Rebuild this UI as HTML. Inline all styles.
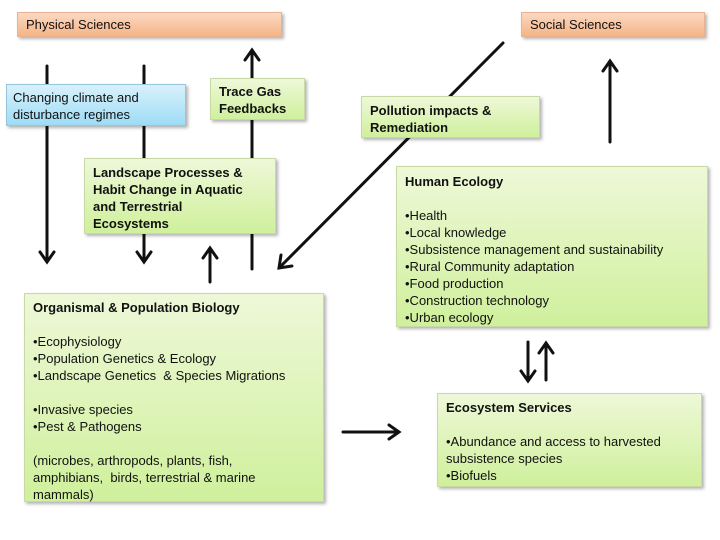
<!DOCTYPE html>
<html><head><meta charset="utf-8"><style>
body{margin:0;width:720px;height:540px;background:#fff;position:relative;overflow:hidden;font-family:"Liberation Sans",sans-serif;color:#111}
.b{position:absolute;box-sizing:border-box;border:1px solid #c9d9a6;box-shadow:2px 2px 3px rgba(0,0,0,.3);font-size:13px;line-height:17px;padding:4px 8px}
.g{background:linear-gradient(#eef8d8,#cff09c)}
.o{background:linear-gradient(#fbd9c2,#f6b486);border-color:#e8b393;padding:3px 8px}
.c{background:linear-gradient(#d9f1fb,#9edcf5);border-color:#94c6dc}
b{font-weight:bold}
svg{position:absolute;left:0;top:0}
</style></head><body>
<div class="b o" style="left:17px;top:12px;width:265px;height:25px">Physical Sciences</div>
<div class="b o" style="left:521px;top:12px;width:184px;height:25px">Social Sciences</div>
<div class="b c" style="left:6px;top:84px;width:180px;height:42px;padding:4px 6px">Changing climate and<br>disturbance regimes</div>
<div class="b g" style="left:210px;top:78px;width:95px;height:42px"><b>Trace Gas<br>Feedbacks</b></div>
<div class="b g" style="left:361px;top:96px;width:179px;height:42px;padding-top:5px"><b>Pollution impacts &amp;<br>Remediation</b></div>
<div class="b g" style="left:84px;top:158px;width:192px;height:76px;padding-top:5px"><b>Landscape Processes &amp;<br>Habit Change in Aquatic<br>and Terrestrial<br>Ecosystems</b></div>
<div class="b g" style="left:396px;top:166px;width:312px;height:161px;padding-top:6px"><b>Human Ecology</b><br><br>•Health<br>•Local knowledge<br>•Subsistence management and sustainability<br>•Rural Community adaptation<br>•Food production<br>•Construction technology<br>•Urban ecology</div>
<div class="b g" style="left:24px;top:293px;width:300px;height:209px;padding-top:5px"><b>Organismal &amp; Population Biology</b><br><br>•Ecophysiology<br>•Population Genetics &amp; Ecology<br>•Landscape Genetics &nbsp;&amp; Species Migrations<br><br>•Invasive species<br>•Pest &amp; Pathogens<br><br>(microbes, arthropods, plants, fish,<br>amphibians, &nbsp;birds, terrestrial &amp; marine<br>mammals)</div>
<div class="b g" style="left:437px;top:393px;width:265px;height:94px;padding-top:5px"><b>Ecosystem Services</b><br><br>•Abundance and access to harvested<br>subsistence species<br>•Biofuels</div>
<svg width="720" height="540" style="z-index:-1"><g stroke="#111" stroke-width="3" fill="none" stroke-linecap="round">
<path d="M47 66V262M40 252L47 262L54 252"/>
<path d="M144 66V262M137 252L144 262L151 252"/>
<path d="M252 269V50M245 60L252 50L259 60"/>
<path d="M210 282V248M203 258L210 248L217 258"/>
<path d="M503 43L279 268M281 255L279 268L292 266"/>
<path d="M610 142V61M603 71L610 61L617 71"/>
<path d="M528 342V381M521 371L528 381L535 371"/>
<path d="M546 380V343M539 353L546 343L553 353"/>
<path d="M343 432H399M389 425L399 432L389 439"/>
</g></svg>
</body></html>
